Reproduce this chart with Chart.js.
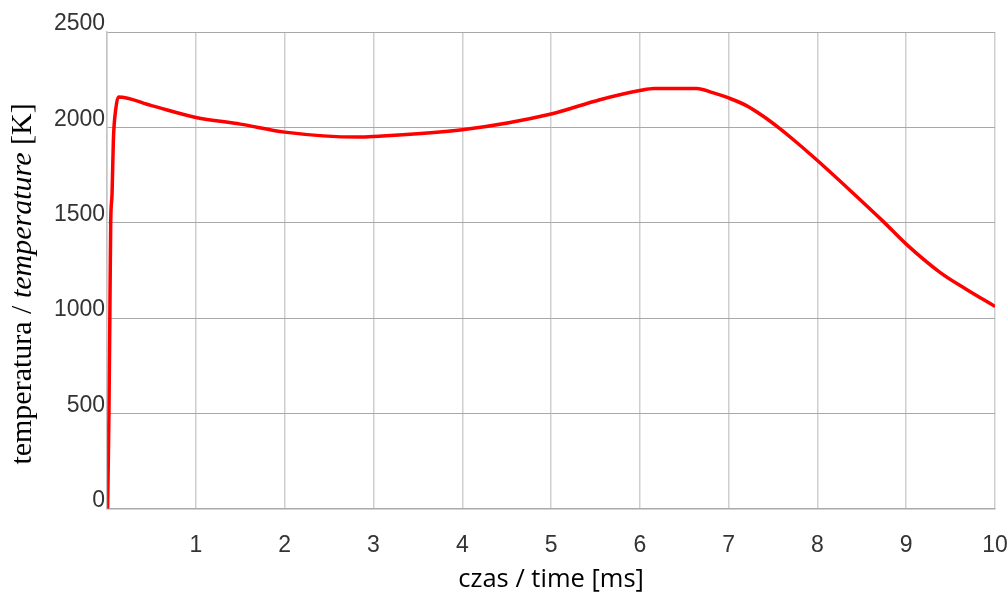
<!DOCTYPE html>
<html>
<head>
<meta charset="utf-8">
<script src="https://cdn.jsdelivr.net/npm/chart.js@4.4.1/dist/chart.umd.min.js"></script>
<style>
  body { margin: 0; background: #fff; }
  #wrap { width: 1008px; height: 597px; }
</style>
</head>
<body>
<div id="wrap"><canvas id="chart" width="1008" height="597"></canvas></div>
<script>
// time axis [ms] and temperature [K]
const timeMs = [0.005, 0.02, 0.03, 0.04, 0.055, 0.07, 0.096, 0.126, 0.5, 1.0, 1.5, 2.0, 2.83, 3.0, 4.0, 5.0, 5.55, 6.0, 6.16, 6.64, 6.82, 7.0, 7.2, 7.39, 7.58, 7.73, 7.91, 8.0, 8.36, 8.74, 9.0, 9.38, 9.68, 10.0];
const temperatureK = [0, 500, 1000, 1500, 1650, 1935, 2092, 2159, 2114, 2052, 2017, 1975, 1949, 1952, 1987, 2070, 2145, 2193, 2204, 2204, 2182, 2154, 2114, 2058, 1992, 1935, 1863, 1826, 1673, 1507, 1388, 1240, 1150, 1061];
const xTicks = [1, 2, 3, 4, 5, 6, 7, 8, 9, 10];
const yTicks = [0, 500, 1000, 1500, 2000, 2500];

const points = timeMs.map((t, i) => ({ x: t, y: temperatureK[i] }));

// y axis title has an italic part, so draw it by hand
const yTitlePlugin = {
  id: "yTitle",
  afterDraw(chart) {
    const ctx = chart.ctx;
    const parts = [
      { text: "temperatura / ", font: "30px 'Liberation Serif'" },
      { text: "temperature", font: "italic 30px 'Liberation Serif'" },
      { text: " [K]", font: "30px 'Liberation Serif'" },
    ];
    let total = 0;
    parts.forEach((p) => {
      ctx.font = p.font;
      p.w = ctx.measureText(p.text).width;
      total += p.w;
    });
    ctx.save();
    ctx.translate(31, 284);
    ctx.rotate(-Math.PI / 2);
    ctx.fillStyle = "#000";
    ctx.textBaseline = "alphabetic";
    ctx.textAlign = "left";
    let x = -total / 2;
    parts.forEach((p) => {
      ctx.font = p.font;
      ctx.fillText(p.text, x, 0);
      x += p.w;
    });
    ctx.restore();
  },
};

new Chart(document.getElementById("chart"), {
  type: "line",
  data: {
    datasets: [
      {
        data: points,
        borderColor: "#ff0000",
        borderWidth: 3.5,
        pointRadius: 0,
        fill: false,
        cubicInterpolationMode: "monotone",
      },
    ],
  },
  options: {
    responsive: false,
    animation: false,
    layout: { padding: { left: 52, right: 13, top: 32, bottom: 0 } },
    plugins: { legend: { display: false }, tooltip: { enabled: false } },
    scales: {
      x: {
        type: "linear",
        min: 0,
        max: 10,
        afterBuildTicks: (axis) => {
          axis.ticks = [0].concat(xTicks).map((v) => ({ value: v }));
        },
        ticks: {
          callback: (v) => (v === 0 ? "" : String(v)),
          color: "#333",
          font: { family: "'Liberation Sans'", size: 23 },
          padding: 0,
          maxRotation: 0,
        },
        // invisible tick marks push the labels down
        grid: { color: "#cfcfcf", lineWidth: 1.5, drawTicks: true, tickLength: 23, tickColor: "rgba(0,0,0,0)" },
        border: { color: "#aaaaaa", width: 1.5 },
        title: {
          display: true,
          text: "czas / time [ms]",
          color: "#000",
          font: { family: "'Open Sans'", size: 25.5 },
          padding: { top: 5, bottom: 2 },
        },
      },
      y: {
        type: "linear",
        min: 0,
        max: 2500,
        afterBuildTicks: (axis) => {
          axis.ticks = yTicks.map((v) => ({ value: v }));
        },
        ticks: {
          callback: (v) => String(v),
          color: "#333",
          font: { family: "'Liberation Sans'", size: 23 },
          padding: 2,
          labelOffset: -8,
        },
        grid: { color: "#a8a8a8", lineWidth: 1, drawTicks: false },
        border: { color: "#c4c4c4", width: 1.5 },
      },
    },
  },
  plugins: [yTitlePlugin],
});
</script>
</body>
</html>
